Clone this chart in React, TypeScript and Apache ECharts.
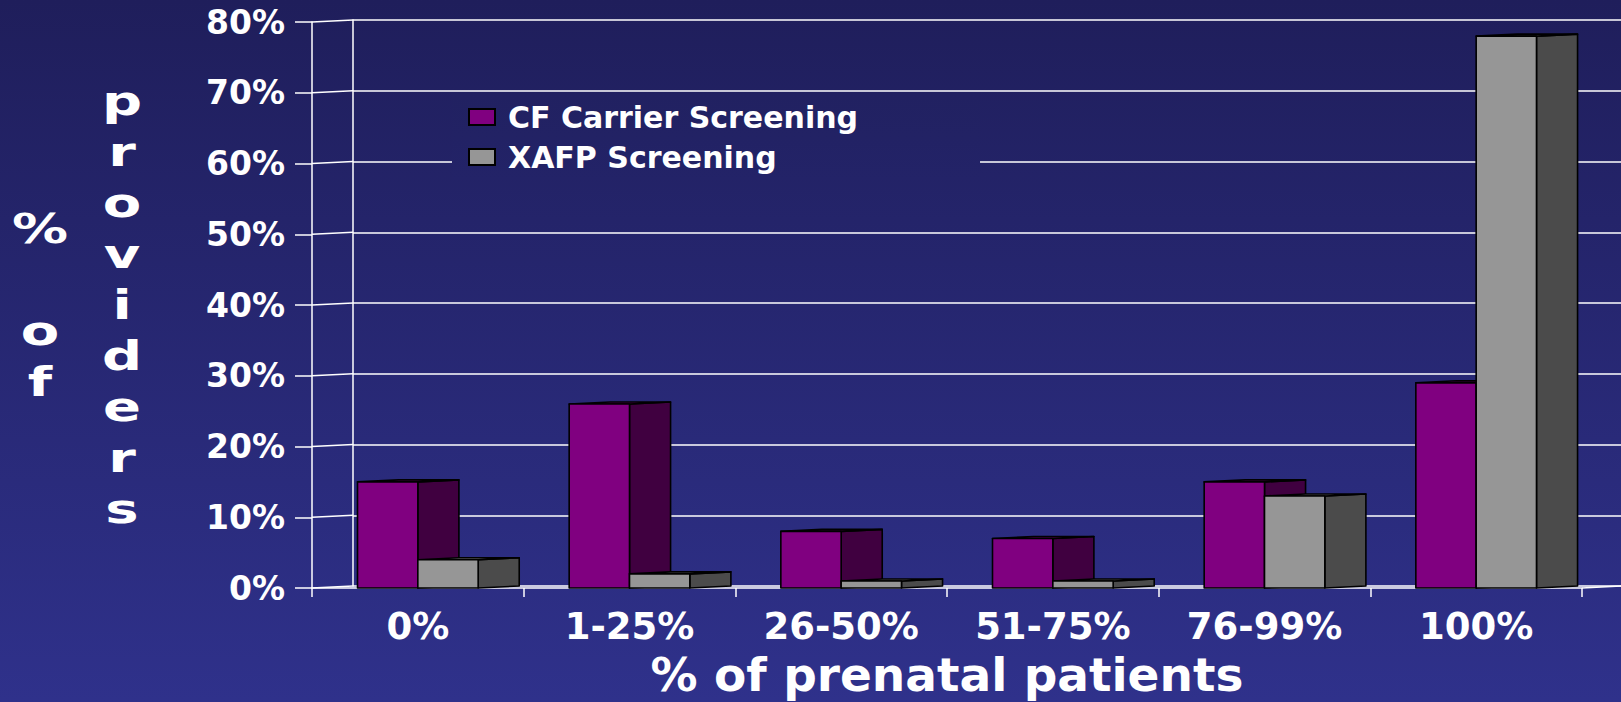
import React, { useEffect, useRef } from 'react';
import * as echarts from 'echarts';

// ---------- data ----------
const categories = ['0%', '1-25%', '26-50%', '51-75%', '76-99%', '100%'];
const cfCarrierValues = [15, 26, 8, 7, 15, 29];
const xafpValues = [4, 2, 1, 1, 13, 78];
const seriesNames = ['CF Carrier Screening', 'XAFP Screening'];
const yTickValues = [0, 10, 20, 30, 40, 50, 60, 70, 80];
const yTitleCol1 = ['%', '', 'o', 'f'];
const yTitleCol2 = ['p', 'r', 'o', 'v', 'i', 'd', 'e', 'r', 's'];
const xTitle = '% of prenatal patients';

// ---------- style ----------
const FONT = '"DejaVu Sans", "Liberation Sans", Arial, sans-serif';
const BG_TOP = [31, 30, 91];
const BG_BOTTOM = [47, 49, 139];
const H = 702;
const W = 1621;
const DEPTH = 0.194; // fraction of band width
const DY = -2;

function bgAt(y: number) {
  const t = y / H;
  const c = BG_TOP.map((v, i) => Math.round(v + (BG_BOTTOM[i] - v) * t));
  return `rgb(${c[0]},${c[1]},${c[2]})`;
}

function makeBarRenderer(side: 'left' | 'right', front: string, sideC: string, topC: string) {
  return (params: any, api: any) => {
    const cat = api.value(0);
    const val = api.value(1);
    const bw = api.size([1, 0])[0];
    const base = api.coord([cat, 0]);
    const tp = api.coord([cat, val]);
    const fw = bw * 0.285;
    const dx = bw * DEPTH;
    const x0 = side === 'left' ? base[0] - fw : base[0];
    const x1 = x0 + fw;
    const yb = base[1];
    const yt = tp[1];
    const stroke = { stroke: '#000', lineWidth: 1.6, lineJoin: 'round' };
    return {
      type: 'group',
      children: [
        {
          type: 'polygon',
          shape: { points: [[x1, yt], [x1 + dx, yt + DY], [x1 + dx, yb + DY], [x1, yb]] },
          style: { fill: sideC, ...stroke },
        },
        {
          type: 'polygon',
          shape: { points: [[x0, yt], [x0 + dx, yt + DY], [x1 + dx, yt + DY], [x1, yt]] },
          style: { fill: topC, ...stroke },
        },
        {
          type: 'rect',
          shape: { x: x0, y: yt, width: fw, height: yb - yt },
          style: { fill: front, ...stroke },
        },
      ],
    };
  };
}

function wallRenderer(params: any, api: any) {
  const v = api.value(1);
  const bw = api.size([1, 0])[0];
  const p = api.coord([0, v]);
  const x0 = p[0] - bw / 2;
  const dx = bw * DEPTH;
  const ls = { stroke: '#ffffff', lineWidth: 1.5 };
  const children: any[] = [
    { type: 'line', shape: { x1: x0, y1: p[1], x2: x0 + dx, y2: p[1] + DY }, style: ls },
  ];
  if (v === 0) {
    const xe = api.coord([categories.length - 1, 0])[0] + bw / 2;
    children.push({ type: 'line', shape: { x1: xe, y1: p[1], x2: xe + dx, y2: p[1] + DY }, style: ls });
  }
  return { type: 'group', children };
}

export default function App() {
  const ref = useRef<HTMLDivElement>(null);

  useEffect(() => {
    if (!ref.current) return;
    const chart = echarts.init(ref.current, null, { renderer: 'svg' });

    const legendTop = 94;
    const legendBottom = 184;

    chart.setOption({
      animation: false,
      backgroundColor: new echarts.graphic.LinearGradient(0, 0, 0, 1, [
        { offset: 0, color: bgAt(0) },
        { offset: 1, color: bgAt(H) },
      ]),
      grid: [
        { left: 312, right: 39, top: 22, bottom: 114, containLabel: false, outerBoundsMode: 'none' },
        { left: 353, right: -2, top: 20, bottom: 116, containLabel: false, outerBoundsMode: 'none' },
      ],
      xAxis: [
        {
          type: 'category',
          gridIndex: 0,
          data: categories,
          axisLine: { show: true, lineStyle: { color: '#ffffff', width: 1.5 } },
          axisTick: { show: true, length: 9, lineStyle: { color: '#ffffff', width: 1.5 } },
          axisLabel: {
            color: '#ffffff',
            fontFamily: FONT,
            fontWeight: 'bold',
            fontSize: 37,
            margin: 20,
          },
          name: xTitle,
          nameLocation: 'middle',
          nameGap: 63,
          nameTextStyle: {
            color: '#ffffff',
            fontFamily: FONT,
            fontWeight: 'bold',
            fontSize: 47,
            lineHeight: 47,
          },
        },
        {
          type: 'category',
          gridIndex: 1,
          data: categories,
          show: false,
        },
      ],
      yAxis: [
        {
          type: 'value',
          gridIndex: 0,
          min: 0,
          max: 80,
          interval: 10,
          axisLine: { show: true, lineStyle: { color: '#ffffff', width: 1.5 } },
          axisTick: { show: true, length: 17, lineStyle: { color: '#ffffff', width: 1.5 } },
          splitLine: { show: false },
          axisLabel: {
            color: '#ffffff',
            fontFamily: FONT,
            fontWeight: 'bold',
            fontSize: 33,
            margin: 27,
            formatter: '{value}%',
          },
        },
        {
          type: 'value',
          gridIndex: 1,
          min: 0,
          max: 80,
          interval: 10,
          axisLine: { show: true, lineStyle: { color: '#ffffff', width: 1.5 } },
          axisTick: { show: false },
          axisLabel: { show: false },
          splitLine: { show: true, lineStyle: { color: '#ffffff', width: 1.5 } },
        },
      ],
      legend: {
        data: seriesNames,
        orient: 'vertical',
        left: 452,
        top: legendTop,
        itemWidth: 26,
        itemHeight: 16,
        itemGap: 10,
        padding: [8, 122, 8, 16],
        icon: 'rect',
        backgroundColor: new echarts.graphic.LinearGradient(0, 0, 0, 1, [
          { offset: 0, color: bgAt(legendTop) },
          { offset: 1, color: bgAt(legendBottom) },
        ]),
        textStyle: {
          color: '#ffffff',
          fontFamily: FONT,
          fontWeight: 'bold',
          fontSize: 30,
          padding: [0, 0, 0, 8],
        },
      },
      graphic: [
        {
          type: 'text',
          x: 40,
          y: 204,
          scaleX: 1.4,
          style: {
            text: yTitleCol1.join('\n'),
            fill: '#ffffff',
            fontFamily: FONT,
            fontWeight: 'bold',
            fontSize: 40,
            lineHeight: 51,
            align: 'center',
            verticalAlign: 'top',
          },
        },
        {
          type: 'text',
          x: 122,
          y: 76,
          scaleX: 1.4,
          style: {
            text: yTitleCol2.join('\n'),
            fill: '#ffffff',
            fontFamily: FONT,
            fontWeight: 'bold',
            fontSize: 40,
            lineHeight: 51,
            align: 'center',
            verticalAlign: 'top',
          },
        },
      ],
      series: [
        {
          name: 'wall',
          type: 'custom',
          xAxisIndex: 0,
          yAxisIndex: 0,
          silent: true,
          z: 1,
          renderItem: wallRenderer,
          encode: { x: 0, y: 1 },
          data: yTickValues.map((v) => [0, v]),
        },
        {
          name: seriesNames[0],
          type: 'custom',
          xAxisIndex: 0,
          yAxisIndex: 0,
          z: 3,
          itemStyle: { color: '#800080', borderColor: '#000000', borderWidth: 1.5 },
          renderItem: makeBarRenderer('left', '#800080', '#400040', '#600060'),
          encode: { x: 0, y: 1 },
          data: cfCarrierValues.map((v, i) => [i, v]),
        },
        {
          name: seriesNames[1],
          type: 'custom',
          xAxisIndex: 0,
          yAxisIndex: 0,
          z: 4,
          itemStyle: { color: '#969696', borderColor: '#000000', borderWidth: 1.5 },
          renderItem: makeBarRenderer('right', '#969696', '#4b4b4b', '#707070'),
          encode: { x: 0, y: 1 },
          data: xafpValues.map((v, i) => [i, v]),
        },
      ],
    });

    return () => {
      chart.dispose();
    };
  }, []);

  return (
    <div
      ref={ref}
      style={{ position: 'fixed', left: 0, top: 0, width: W, height: H }}
    />
  );
}
